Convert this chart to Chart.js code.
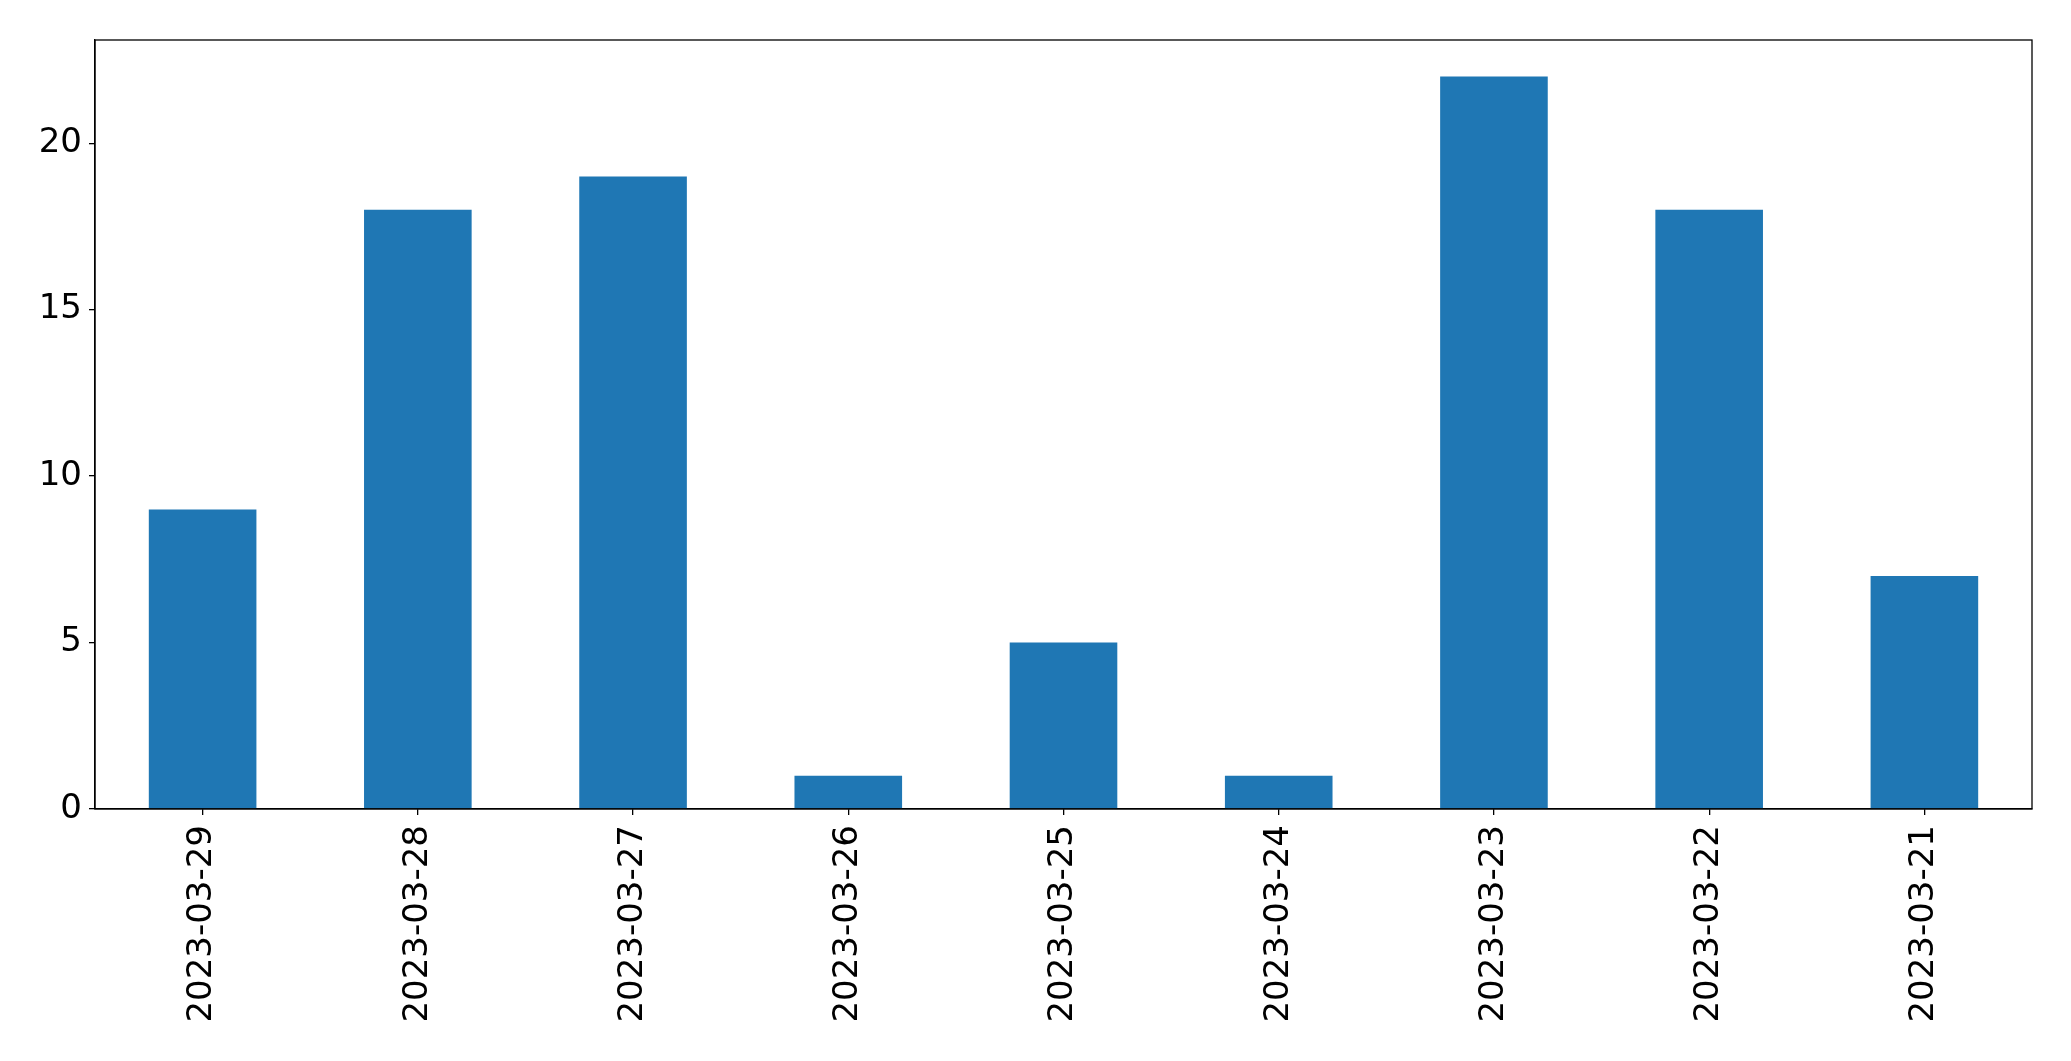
<!DOCTYPE html>
<html>
<head>
<meta charset="utf-8">
<script src="https://cdn.jsdelivr.net/npm/chart.js@4/dist/chart.umd.min.js"></script>
<style>
html,body{margin:0;padding:0;background:#fff;}
#wrap{width:2071px;height:1061px;position:relative;}
</style>
</head>
<body>
<div id="wrap"><canvas id="c" width="2071" height="1061"></canvas></div>
<script>
const categories = ["2023-03-29","2023-03-28","2023-03-27","2023-03-26","2023-03-25","2023-03-24","2023-03-23","2023-03-22","2023-03-21"];
const counts = [9, 18, 19, 1, 5, 1, 22, 18, 7];
const yTicks = [0, 5, 10, 15, 20];
const yMax = 23.1;

const frame = {
  id: 'frame',
  afterDatasetsDraw(chart) {
    const a = chart.chartArea, ctx = chart.ctx;
    ctx.save();
    ctx.strokeStyle = '#000';
    ctx.lineWidth = 1.3;
    ctx.strokeRect(a.left, a.top, a.right - a.left, a.bottom - a.top);
    ctx.restore();
  }
};

new Chart(document.getElementById('c'), {
  type: 'bar',
  data: {
    labels: categories,
    datasets: [{
      data: counts,
      backgroundColor: '#1f77b4',
      borderWidth: 0,
      barPercentage: 0.5,
      categoryPercentage: 1.0
    }]
  },
  options: {
    responsive: false,
    animation: false,
    devicePixelRatio: 1,
    layout: { padding: { top: 40, right: 39, left: 0, bottom: 0 } },
    plugins: { legend: { display: false }, tooltip: { enabled: false } },
    scales: {
      x: {
        offset: true,
        grid: { display: true, offset: false, drawOnChartArea: false, drawTicks: true, tickLength: 6, color: '#000', lineWidth: 1.3 },
        border: { display: true, color: '#000', width: 1.3 },
        ticks: {
          autoSkip: false, minRotation: 90, maxRotation: 90, padding: 10,
          color: '#000', font: { family: 'DejaVu Sans', size: 34 }
        },
        afterFit(s) { s.height = 252; }
      },
      y: {
        min: 0, max: yMax,
        grid: { display: true, drawOnChartArea: false, drawTicks: true, tickLength: 6, color: '#000', lineWidth: 1.3 },
        border: { display: true, color: '#000', width: 1.3 },
        ticks: {
          stepSize: 5, includeBounds: false, padding: 7,
          color: '#000', font: { family: 'DejaVu Sans', size: 34 }
        },
        afterBuildTicks(s) { s.ticks = yTicks.map(v => ({ value: v })); },
        afterFit(s) { s.width = 95; }
      }
    }
  },
  plugins: [frame]
});
</script>
</body>
</html>
